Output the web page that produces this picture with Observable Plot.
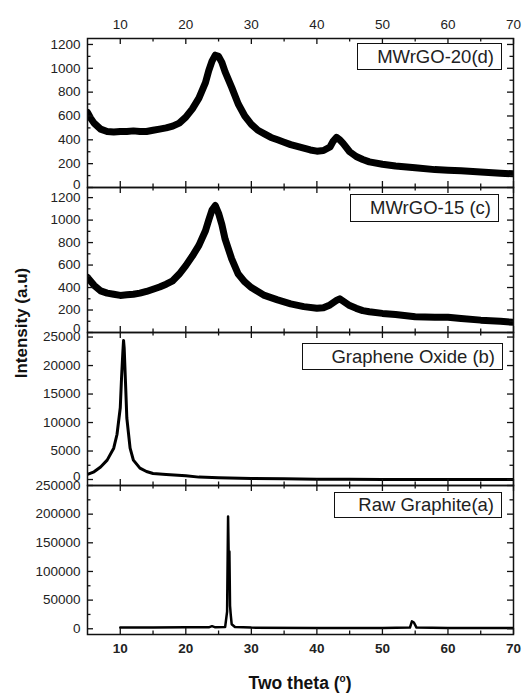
<!DOCTYPE html>
<html><head><meta charset="utf-8">
<script src="https://cdn.jsdelivr.net/npm/d3@7"></script>
<script src="https://cdn.jsdelivr.net/npm/@observablehq/plot@0.6"></script>
<style>
body{margin:0;background:#fff;font-family:"Liberation Sans",Arial,sans-serif;}
#chart{position:relative;width:528px;height:693px;overflow:hidden;background:#fff}
#chart svg{position:absolute;left:0;overflow:visible;background:transparent}
.legend{position:absolute;border:1.5px solid #111;box-sizing:border-box;font-size:18.5px;color:#222;padding-right:7px;display:flex;align-items:center;justify-content:flex-end;background:#fff;white-space:nowrap}
.ylab{position:absolute;left:22px;top:323px;transform:translate(-50%,-50%) rotate(-90deg);font-weight:bold;font-size:17px;white-space:nowrap;color:#111}
.xlab{position:absolute;left:300px;top:683px;transform:translate(-50%,-50%);font-weight:bold;font-size:17.5px;white-space:nowrap;color:#111}
.xlab sup{font-size:10px}
</style></head><body><div id="chart"></div>
<script>
// x axis ticks (two theta, degrees)
const xMajor = [10, 20, 30, 40, 50, 60, 70];
const xMinor = [15, 25, 35, 45, 55, 65];

// (d) MWrGO-20
const dTheta = [5,5.5,6,7,8,9,10,11,12,13,14,15,16,17,18,19,20,21,22,23,23.5,24,24.5,25,25.5,26,27,28,29,30,31,32,33,34,35,36,37,38,39,40,41,42,42.5,43,43.5,44,45,46,47,48,50,52,55,58,60,62,65,68,70];
const dInt   = [630,580,540,490,470,465,470,470,475,470,470,480,490,500,515,540,590,660,750,880,980,1060,1110,1100,1050,970,840,700,600,530,480,450,420,400,380,360,345,330,315,305,310,340,390,420,400,370,300,260,235,215,195,180,165,150,145,140,130,120,115];
const dYMajor = [200,400,600,800,1000,1200];
const dYMinor = [100,300,500,700,900,1100];

// (c) MWrGO-15
const cTheta = [5,6,7,8,9,10,11,12,13,14,15,16,17,18,19,20,21,22,23,23.5,24,24.5,25,25.5,26,27,28,29,30,31,32,34,36,38,40,41,42,43,43.5,44,45,46,47,48,50,52,55,58,60,62,65,68,70];
const cInt   = [490,420,370,350,340,330,335,340,350,365,385,405,430,460,520,595,680,775,905,1000,1090,1130,1060,960,830,655,520,450,400,365,330,290,255,230,215,220,245,285,300,280,240,215,195,185,170,160,140,135,135,125,110,100,90];
const cYMajor = [200,400,600,800,1000,1200];
const cYMinor = [100,300,500,700,900,1100];

// (b) Graphene Oxide
const bTheta = [5,6,7,8,9,9.5,10,10.2,10.4,10.5,10.6,10.8,11,11.5,12,13,14,15,17,20,22,25,30,35,40,45,50,55,60,65,70];
const bInt   = [900,1350,2200,3400,5500,7900,12600,18000,22500,24400,23000,17000,10800,5500,3400,2000,1400,1060,900,650,420,300,180,120,60,30,20,20,20,20,20];
const bYMajor = [5000,10000,15000,20000,25000];
const bYMinor = [2500,7500,12500,17500,22500];

// (a) Raw Graphite
const aTheta = [10,15,20,23.5,24,24.5,26,26.3,26.45,26.55,26.65,26.75,26.85,27,27.5,30,40,50,54.2,54.5,54.8,55.2,60,70];
const aInt   = [2000,2000,2500,2500,4500,2500,3000,30000,196000,120000,135000,40000,25000,8000,3000,2000,1500,1500,2000,13000,11000,2000,1500,1500];
const aYMajor = [50000,100000,150000,200000,250000];
const aYMinor = [25000,75000,125000,175000,225000];

const yZero = [0];
const labels = ["MWrGO-20(d)", "MWrGO-15 (c)", "Graphene Oxide (b)", "Raw Graphite(a)"];

const W = 528, ML = 87, MR = 15;
const chart = document.getElementById("chart");

function panel({theta, inten, yDomain, yMajor, yMinor, top, height, marginTop = 0, marginBottom = 0, sw, zeroDy, topAxis = false, bottomAxis = false}) {
  const data = theta.map((t, i) => ({t, v: inten[i]}));
  const fh = height - marginTop - marginBottom;
  const fw = W - ML - MR;
  const tk = {stroke: "#111", strokeWidth: 1.3};
  const allY = yZero.concat(yMajor);
  const marks = [
    Plot.line(data, {x: "t", y: "v", stroke: "#000", strokeWidth: sw, strokeLinejoin: "round", strokeLinecap: "round", clip: true}),
    Plot.tickX(xMajor, {x: d => d, ...tk, insetBottom: fh - 6}),
    Plot.tickX(xMajor, {x: d => d, ...tk, insetTop: fh - 6}),
    Plot.tickX(xMinor, {x: d => d, ...tk, insetBottom: fh - 3.5}),
    Plot.tickX(xMinor, {x: d => d, ...tk, insetTop: fh - 3.5}),
    Plot.tickY(allY, {y: d => d, ...tk, insetRight: fw - 6}),
    Plot.tickY(allY, {y: d => d, ...tk, insetLeft: fw - 6}),
    Plot.tickY(yMinor, {y: d => d, ...tk, insetRight: fw - 3.5}),
    Plot.tickY(yMinor, {y: d => d, ...tk, insetLeft: fw - 3.5}),
    Plot.axisY({ticks: yMajor, tickSize: 0, tickPadding: 7, tickFormat: d => String(d), label: null}),
    Plot.axisY({ticks: yZero, tickSize: 0, tickPadding: 7, tickFormat: d => String(d), label: null, dy: zeroDy}),
    Plot.frame({stroke: "#111", strokeWidth: 1.5})
  ];
  if (topAxis) marks.push(Plot.axisX({anchor: "top", ticks: xMajor, tickSize: 0, tickPadding: 10, label: null}));
  if (bottomAxis) marks.push(Plot.axisX({anchor: "bottom", ticks: xMajor, tickSize: 0, tickPadding: 9, label: null, fontWeight: "bold"}));
  const svg = Plot.plot({
    width: W, height, marginLeft: ML, marginRight: MR, marginTop, marginBottom,
    style: {fontSize: "13.5px", fontFamily: "'Liberation Sans', Arial, sans-serif", color: "#222", background: "transparent", overflow: "visible"},
    x: {domain: [5, 70], axis: (topAxis || bottomAxis) ? undefined : null},
    y: {domain: yDomain},
    marks
  });
  svg.style.top = top + "px";
  chart.appendChild(svg);
}

panel({theta: dTheta, inten: dInt, yDomain: [0, 1250], yMajor: dYMajor, yMinor: dYMinor, top: 0, height: 187, marginTop: 38, sw: 7, zeroDy: -3, topAxis: true});
panel({theta: cTheta, inten: cInt, yDomain: [0, 1290], yMajor: cYMajor, yMinor: cYMinor, top: 187, height: 145, sw: 7, zeroDy: -4});
panel({theta: bTheta, inten: bInt, yDomain: [-1050, 25800], yMajor: bYMajor, yMinor: bYMinor, top: 332, height: 153, sw: 3, zeroDy: -3});
panel({theta: aTheta, inten: aInt, yDomain: [-10000, 250000], yMajor: aYMajor, yMinor: aYMinor, top: 485, height: 208, marginBottom: 59, sw: 2.5, zeroDy: 0, bottomAxis: true});

const boxes = [
  {left: 357, top: 43, w: 145, h: 27},
  {left: 350, top: 194, w: 149, h: 28},
  {left: 302, top: 343, w: 201, h: 27},
  {left: 334, top: 492, w: 168, h: 26}
];
boxes.forEach((b, i) => {
  const el = document.createElement("div");
  el.className = "legend";
  el.style.left = b.left + "px"; el.style.top = b.top + "px";
  el.style.width = b.w + "px"; el.style.height = b.h + "px";
  el.textContent = labels[i];
  chart.appendChild(el);
});

const yl = document.createElement("div");
yl.className = "ylab"; yl.textContent = "Intensity (a.u)";
chart.appendChild(yl);
const xl = document.createElement("div");
xl.className = "xlab"; xl.innerHTML = "Two theta (<sup>o</sup>)";
chart.appendChild(xl);
</script></body></html>
